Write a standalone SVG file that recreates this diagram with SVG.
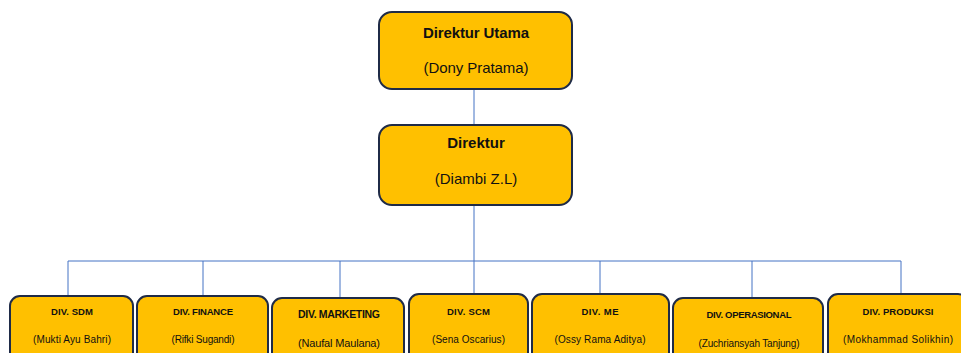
<svg xmlns="http://www.w3.org/2000/svg" width="961" height="353" viewBox="0 0 961 353">
<style>
.box{fill:#FFC000;stroke:#1F2B47;stroke-width:2}
.conn{stroke:#4472C4;stroke-width:1;fill:none}
text{font-family:"Liberation Sans",Arial,sans-serif;fill:#111;text-anchor:middle}
.t1{font-size:15px;font-weight:bold}
.s1{font-size:15px}
.t2{font-size:9.5px;font-weight:bold}
.s2{font-size:10px}
</style>
<rect width="961" height="353" fill="#fff"/>
<g id="connectors">
<path class="conn" d="M474,89 V125 M474,205 V261 M68,261 H901 M68,261 V296 M203,261 V296 M340,261 V298 M474,261 V294 M600,261 V294 M752,261 V298 M901,261 V294"/>
</g>
<g id="direktur-utama">
<rect class="box" x="379" y="12" width="193" height="77" rx="13"/>
<text class="t1" x="476" y="38" textLength="106">Direktur Utama</text>
<text class="s1" x="476" y="73" textLength="105">(Dony Pratama)</text>
</g>
<g id="direktur">
<rect class="box" x="379" y="125" width="193" height="80" rx="13"/>
<text class="t1" x="476" y="148">Direktur</text>
<text class="s1" x="476" y="184">(Diambi Z.L)</text>
</g>
<g id="div-sdm">
<rect class="box" x="10" y="296" width="123" height="75" rx="10"/>
<text class="t2" x="72" y="315" textLength="42">DIV. SDM</text>
<text class="s2" x="72" y="343" textLength="78">(Mukti Ayu Bahri)</text>
</g>
<g id="div-finance">
<rect class="box" x="137" y="296" width="131" height="75" rx="10"/>
<text class="t2" x="203" y="315" textLength="60">DIV. FINANCE</text>
<text class="s2" x="203" y="343" textLength="63">(Rifki Sugandi)</text>
</g>
<g id="div-marketing">
<rect class="box" x="272" y="298" width="132" height="75" rx="10"/>
<text class="t2" x="339" y="318" textLength="82" style="font-size:10.5px">DIV. MARKETING</text>
<text class="s2" x="339" y="347" textLength="82" style="font-size:11px">(Naufal Maulana)</text>
</g>
<g id="div-scm">
<rect class="box" x="409" y="294" width="119" height="75" rx="10"/>
<text class="t2" x="468.5" y="315" textLength="43">DIV. SCM</text>
<text class="s2" x="468.5" y="343" textLength="73">(Sena Oscarius)</text>
</g>
<g id="div-me">
<rect class="box" x="532" y="294" width="137" height="75" rx="10"/>
<text class="t2" x="600" y="315" textLength="37">DIV. ME</text>
<text class="s2" x="600" y="343" textLength="91">(Ossy Rama Aditya)</text>
</g>
<g id="div-operasional">
<rect class="box" x="673" y="298" width="150" height="75" rx="10"/>
<text class="t2" x="749" y="318" textLength="85">DIV. OPERASIONAL</text>
<text class="s2" x="749" y="347" textLength="101">(Zuchriansyah Tanjung)</text>
</g>
<g id="div-produksi">
<rect class="box" x="828" y="294" width="140" height="75" rx="10"/>
<text class="t2" x="898" y="315" textLength="71">DIV. PRODUKSI</text>
<text class="s2" x="898" y="343" textLength="110">(Mokhammad Solikhin)</text>
</g>
</svg>
